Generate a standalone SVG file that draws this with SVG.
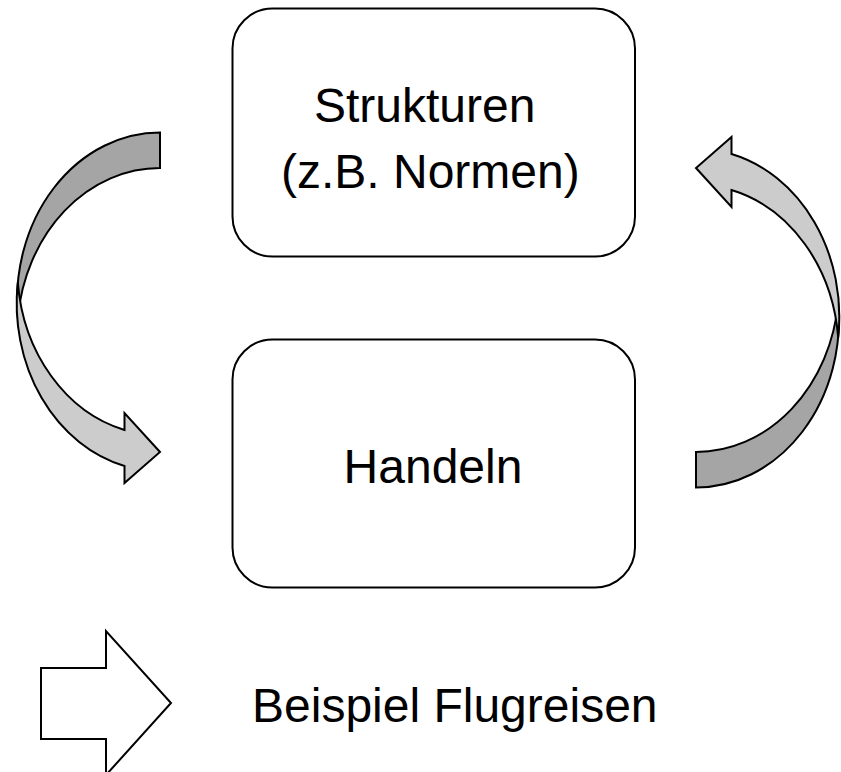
<svg xmlns="http://www.w3.org/2000/svg" width="841" height="772" viewBox="0 0 841 772">
  <style>
    .box { fill: #ffffff; stroke: #000000; stroke-width: 2; }
    .lbl { font-family: "Liberation Sans", Arial, sans-serif; font-size: 48px; fill: #000000; }
    .dark { fill: #a5a5a5; stroke: #000000; stroke-width: 2; stroke-linejoin: miter; }
    .light { fill: #cccccc; stroke: #000000; stroke-width: 2; stroke-linejoin: miter; }
    .block { fill: #ffffff; stroke: #000000; stroke-width: 2; }
  </style>
  <defs>
    <g id="curved-arrow">
      <path class="dark" d="M160,132.5 A143,168 0 0 0 17.8,317.75 A143,168 0 0 1 160,168 Z"/>
      <path class="light" d="M17.8,282.25 A143,168 0 0 0 124.5,466 L124.5,483 L160,452 L124.5,413 L124.5,430 A143,168 0 0 1 17.8,282.25 Z"/>
    </g>
  </defs>
  <rect width="841" height="772" fill="#ffffff"/>
  <g id="connectors">
    <use id="arrow-left" href="#curved-arrow"/>
    <use id="arrow-right" href="#curved-arrow" transform="rotate(180 428 310)"/>
  </g>
  <g id="node-strukturen">
    <rect class="box" x="232.5" y="8.5" width="402.5" height="248" rx="40" ry="40"/>
    <text class="lbl" x="314" y="122">Strukturen</text>
    <text class="lbl" x="281" y="188">(z.B. Normen)</text>
  </g>
  <g id="node-handeln">
    <rect class="box" x="232.5" y="339.5" width="402.5" height="248" rx="40" ry="40"/>
    <text class="lbl" x="433" y="483" text-anchor="middle">Handeln</text>
  </g>
  <g id="legend">
    <path class="block" d="M41,668 L106,668 L106,631 L171,703 L106,775 L106,739 L41,739 Z"/>
    <text class="lbl" x="252" y="722">Beispiel Flugreisen</text>
  </g>
</svg>
